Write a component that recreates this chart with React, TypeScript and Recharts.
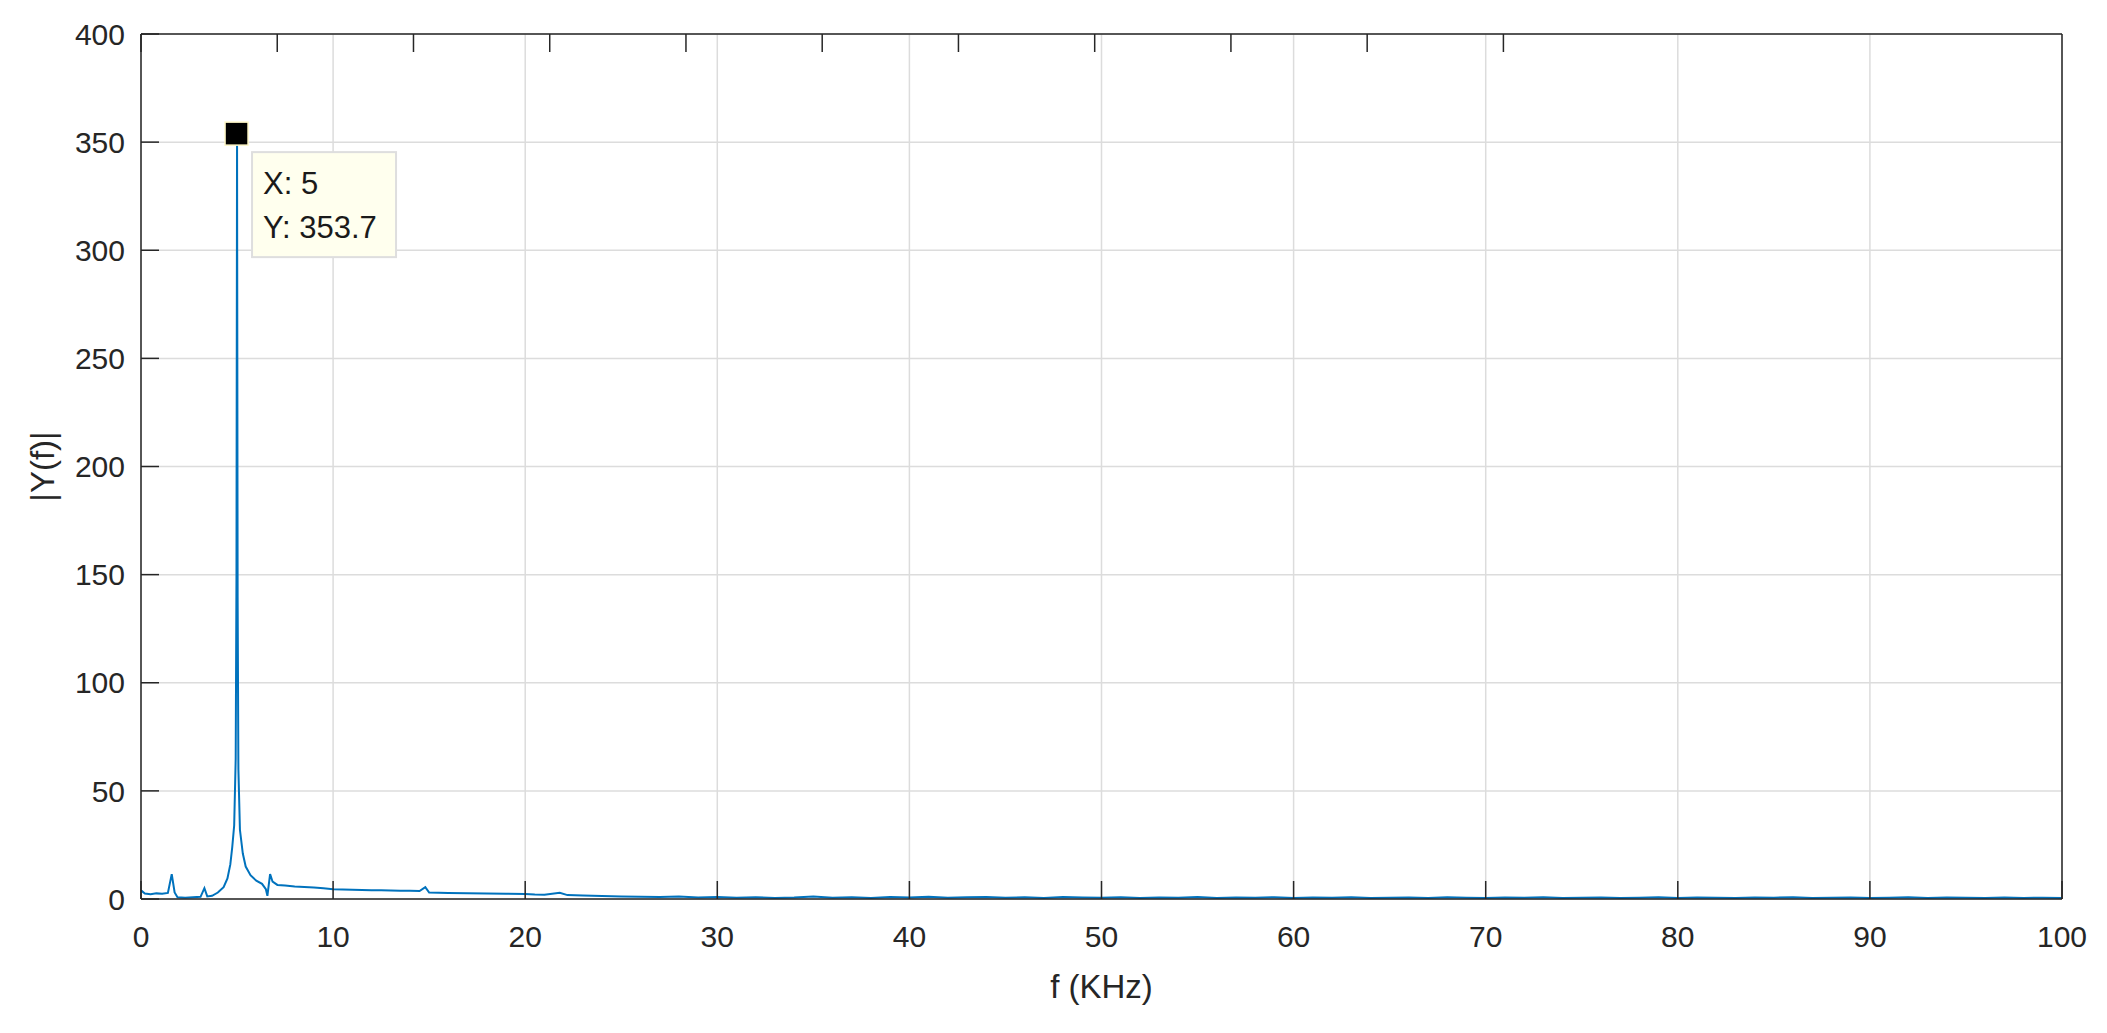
import React from 'react';
import { LineChart, Line, XAxis, YAxis, CartesianGrid, ReferenceDot, Label } from 'recharts';

// spectrum: frequency in kHz, magnitude |Y(f)|
const freqLow = [
  0, 0.2, 0.5, 0.8, 1.1, 1.4, 1.6, 1.75, 1.9, 2.3, 2.7, 3.1, 3.3, 3.45, 3.7, 4.0, 4.3, 4.5, 4.65, 4.75,
  4.85, 4.93, 4.97, 5.0, 5.03, 5.07, 5.15, 5.3, 5.45, 5.7, 6.0, 6.3, 6.5, 6.58, 6.72, 6.85, 7.1, 7.5, 8.0, 8.5,
  9.0, 9.5, 10, 10.5, 11, 11.5, 12, 12.5, 13, 13.5, 14, 14.5, 14.8, 15.0, 15.5, 16, 17, 18, 19, 20,
  20.5, 21, 21.8, 22.2, 23, 24, 25,
];
const magLow = [
  4.0, 2.5, 2.2, 2.6, 2.4, 2.8, 11.5, 3.0, 0.8, 0.6, 0.8, 1.0, 5.0, 1.2, 1.5, 3.0, 5.5, 9.5, 16, 24,
  34, 65, 150, 353.7, 140, 60, 32, 21, 15, 11, 8.5, 7, 4.5, 1.5, 11.5, 8, 6.5, 6.2, 5.8, 5.6,
  5.3, 5.0, 4.5, 4.4, 4.3, 4.2, 4.1, 4.0, 3.9, 3.8, 3.8, 3.7, 5.5, 3.0, 2.9, 2.8, 2.7, 2.6, 2.4, 2.3,
  2.1, 2.0, 2.9, 1.8, 1.6, 1.4, 1.2,
];
const freqHigh = [
  26, 27, 28, 29, 30, 31, 32, 33, 34, 35, 36, 37, 38, 39, 40, 41, 42, 43, 44, 45,
  46, 47, 48, 49, 50, 51, 52, 53, 54, 55, 56, 57, 58, 59, 60, 61, 62, 63, 64, 65,
  66, 67, 68, 69, 70, 71, 72, 73, 74, 75, 76, 77, 78, 79, 80, 81, 82, 83, 84, 85,
  86, 87, 88, 89, 90, 91, 92, 93, 94, 95, 96, 97, 98, 99, 100,
];
const magHigh = [
  1.0, 0.9, 1.1, 0.7, 0.9, 0.6, 0.8, 0.5, 0.7, 1.2, 0.6, 0.8, 0.5, 0.9, 0.7, 1.0, 0.6, 0.8, 0.9, 0.6,
  0.8, 0.5, 0.9, 0.7, 0.6, 0.8, 0.5, 0.7, 0.6, 0.9, 0.5, 0.7, 0.6, 0.8, 0.5, 0.7, 0.6, 0.8, 0.5, 0.6,
  0.7, 0.5, 0.8, 0.6, 0.5, 0.7, 0.6, 0.8, 0.5, 0.6, 0.7, 0.5, 0.6, 0.8, 0.5, 0.7, 0.6, 0.5, 0.7, 0.6,
  0.8, 0.5, 0.6, 0.7, 0.5, 0.6, 0.8, 0.5, 0.7, 0.6, 0.5, 0.7, 0.5, 0.6, 0.5,
];

const xTicks = [0, 10, 20, 30, 40, 50, 60, 70, 80, 90, 100];
const yTicks = [0, 50, 100, 150, 200, 250, 300, 350, 400];

const freq = [...freqLow, ...freqHigh];
const mag = [...magLow, ...magHigh];
const data = freq.map((f, i) => ({ f, y: mag[i] }));

const peakIdx = mag.indexOf(Math.max(...mag));
const peakX = freq[peakIdx];
const peakY = mag[peakIdx];

const FONT = '"Liberation Sans", Arial, Helvetica, sans-serif';
const INK = '#262626';
const TICK_IN = -18;

function DataTip(props: any) {
  const { cx, cy } = props;
  return (
    <g>
      <rect x={cx - 12} y={cy - 12} width={23} height={23} fill="#000" stroke="#fff8c8" strokeWidth={1.5} />
      <rect x={cx + 15} y={cy + 18} width={144} height={105} fill="#ffffee" stroke="#dedede" strokeWidth={2} />
      <text x={cx + 26} y={cy + 60} fontSize={31} fontFamily={FONT} fill="#1a1a1a">
        X: {peakX}
      </text>
      <text x={cx + 26} y={cy + 104} fontSize={31} fontFamily={FONT} fill="#1a1a1a">
        Y: {peakY}
      </text>
    </g>
  );
}

function XTitle(props: any) {
  const vb = props.viewBox;
  return (
    <text x={vb.x + vb.width / 2} y={vb.y + 99} textAnchor="middle" fontSize={33} fontFamily={FONT} fill={INK}>
      f (KHz)
    </text>
  );
}

function YTitle(props: any) {
  const vb = props.viewBox;
  const x = vb.x + vb.width - 99;
  const y = vb.y + vb.height / 2;
  return (
    <text
      x={x}
      y={y}
      transform={`rotate(-90 ${x} ${y})`}
      textAnchor="middle"
      dy="0.35em"
      fontSize={33}
      fontFamily={FONT}
      fill={INK}
    >
      |Y(f)|
    </text>
  );
}

export default function App() {
  const tickStyle = { fill: INK, fontSize: 30, fontFamily: FONT };
  const axisLine = { stroke: INK, strokeWidth: 1.5 };
  const tickLine = { stroke: INK, strokeWidth: 1.5 };
  return (
    <div style={{ width: 2090, height: 1010, fontFamily: FONT, background: '#fff' }}>
      <LineChart width={2090} height={1010} data={data} margin={{ top: 16, right: 16, bottom: 9, left: 33 }}>
        <CartesianGrid stroke="#dcdcdc" strokeWidth={1.5} />
        <XAxis
          dataKey="f"
          type="number"
          domain={[0, 100]}
          ticks={xTicks}
          height={110}
          tick={tickStyle}
          tickSize={TICK_IN}
          tickMargin={45}
          axisLine={axisLine}
          tickLine={tickLine}
          allowDataOverflow
        >
          <Label content={<XTitle />} />
        </XAxis>
        <XAxis
          xAxisId="top"
          orientation="top"
          type="number"
          domain={[0, 100]}
          ticks={xTicks}
          height={10}
          tickSize={TICK_IN}
          tickFormatter={() => ''}
          axisLine={axisLine}
          tickLine={tickLine}
        />
        <YAxis
          type="number"
          domain={[0, 400]}
          ticks={yTicks}
          width={100}
          tick={tickStyle}
          tickSize={TICK_IN}
          tickMargin={34}
          axisLine={axisLine}
          tickLine={tickLine}
          allowDataOverflow
        >
          <Label content={<YTitle />} />
        </YAxis>
        <YAxis
          yAxisId="right"
          orientation="right"
          type="number"
          domain={[0, 400]}
          ticks={yTicks}
          width={20}
          tickSize={TICK_IN}
          tickFormatter={() => ''}
          axisLine={axisLine}
          tickLine={tickLine}
        />
        <Line
          type="linear"
          dataKey="y"
          stroke="#0072BD"
          strokeWidth={2}
          dot={false}
          isAnimationActive={false}
        />
        <ReferenceDot x={peakX} y={peakY} shape={<DataTip />} ifOverflow="visible" />
      </LineChart>
    </div>
  );
}
